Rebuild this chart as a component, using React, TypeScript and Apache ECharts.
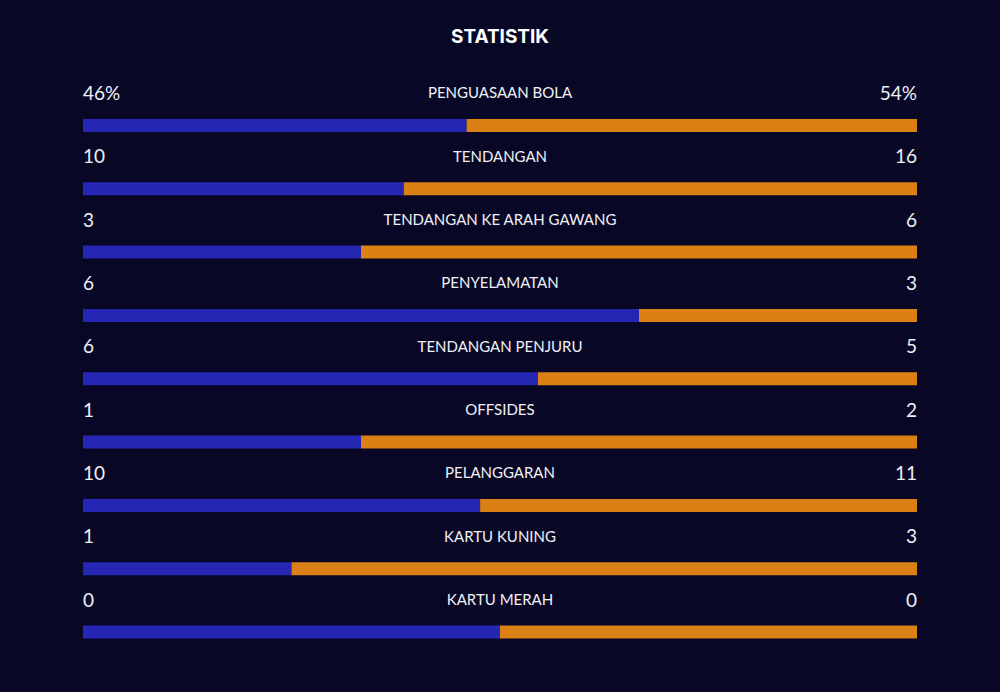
import React, { useEffect, useRef } from "react";
import * as echarts from "echarts";

const title = "STATISTIK";
const categories = [
  "PENGUASAAN BOLA",
  "TENDANGAN",
  "TENDANGAN KE ARAH GAWANG",
  "PENYELAMATAN",
  "TENDANGAN PENJURU",
  "OFFSIDES",
  "PELANGGARAN",
  "KARTU KUNING",
  "KARTU MERAH",
];
const leftValues = [46, 10, 3, 6, 6, 1, 10, 1, 0];
const rightValues = [54, 16, 6, 3, 5, 2, 11, 3, 0];
const valueSuffix = ["%", "", "", "", "", "", "", "", ""];

const BG = "#080826";
const BLUE = "#2626b4";
const ORANGE = "#db8015";
const TEXT = "#f0f0f5";

export default function App() {
  const ref = useRef<HTMLDivElement>(null);
  useEffect(() => {
    if (!ref.current) return;
    const chart = echarts.init(ref.current, undefined, { renderer: "svg" });
    const leftShare = leftValues.map((l, i) => {
      const t = l + rightValues[i];
      return t === 0 ? 0.5 : l / t;
    });
    const rightShare = leftShare.map((s) => 1 - s);
    chart.setOption({
      animation: false,
      backgroundColor: BG,
      title: {
        text: title,
        left: "center",
        top: 22,
        textStyle: {
          color: "#ffffff",
          fontFamily: "Inter, 'Open Sans', sans-serif",
          fontWeight: "bold",
          fontSize: 19,
        },
      },
      grid: { left: 83, right: 83, top: 93.8, bottom: 28.3, containLabel: false },
      xAxis: { type: "value", min: 0, max: 1, show: false },
      yAxis: { type: "category", data: categories, inverse: true, show: false },
      series: [
        {
          type: "bar",
          stack: "s",
          data: leftShare,
          barWidth: 13,
          itemStyle: { color: BLUE },
          silent: true,
        },
        {
          type: "bar",
          stack: "s",
          data: rightShare,
          barWidth: 13,
          itemStyle: { color: ORANGE },
          silent: true,
        },
        {
          type: "custom",
          data: categories.map((c, i) => [0.5, i]),
          encode: { x: 0, y: 1 },
          silent: true,
          renderItem: (params: any, api: any) => {
            const i = params.dataIndex;
            const pl = api.coord([0, i]);
            const pc = api.coord([0.5, i]);
            const pr = api.coord([1, i]);
            const ty = pl[1] - 33;
            const valFont = "400 19px Lato, sans-serif";
            const labFont = "400 15px Lato, sans-serif";
            return {
              type: "group",
              children: [
                {
                  type: "text",
                  style: {
                    x: pl[0],
                    y: ty,
                    text: leftValues[i] + valueSuffix[i],
                    fill: TEXT,
                    font: valFont,
                    align: "left",
                    verticalAlign: "middle",
                    textAlign: "left",
                    textVerticalAlign: "middle",
                  },
                },
                {
                  type: "text",
                  style: {
                    x: pc[0],
                    y: ty,
                    text: categories[i],
                    fill: TEXT,
                    font: labFont,
                    align: "center",
                    verticalAlign: "middle",
                    textAlign: "center",
                    textVerticalAlign: "middle",
                  },
                },
                {
                  type: "text",
                  style: {
                    x: pr[0],
                    y: ty,
                    text: rightValues[i] + valueSuffix[i],
                    fill: TEXT,
                    font: valFont,
                    align: "right",
                    verticalAlign: "middle",
                    textAlign: "right",
                    textVerticalAlign: "middle",
                  },
                },
              ],
            };
          },
        },
      ],
    });
    return () => chart.dispose();
  }, []);
  return (
    <div
      ref={ref}
      style={{ position: "fixed", left: 0, top: 0, width: 1000, height: 692 }}
    />
  );
}
